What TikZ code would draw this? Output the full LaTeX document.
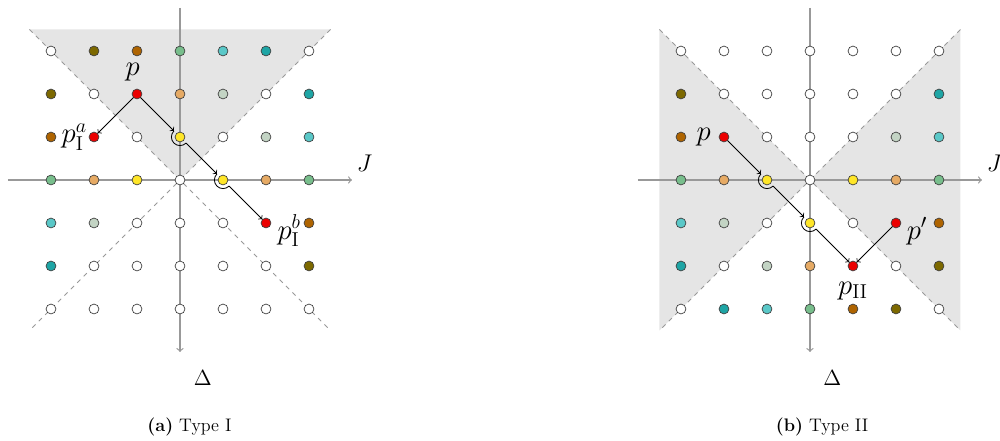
\documentclass[tikz,border=0pt]{standalone}
\usepackage{fix-cm}
\usetikzlibrary{positioning,math}

\definecolor{olv}{RGB}{125,105,0}
\definecolor{brn}{RGB}{175,100,0}
\definecolor{grn}{RGB}{120,190,140}
\definecolor{cyn}{RGB}{90,200,200}
\definecolor{tea}{RGB}{30,165,165}
\definecolor{tan}{RGB}{230,170,100}
\definecolor{sag}{RGB}{195,212,196}
\definecolor{yel}{RGB}{255,230,40}
\definecolor{rd}{RGB}{235,0,0}
\colorlet{wh}{white}

\begin{document}
\begin{tikzpicture}[
    dot/.style={circle,draw=black!75,line width=0.45pt,inner sep=0pt,minimum size=0.23cm},
    axis/.style={->,gray!80,line width=0.8pt},
    cone/.style={gray!80,dashed,line width=0.5pt},
    flow/.style={->,line width=0.55pt},
    ring/.style={line width=0.55pt},
    lbl/.style={inner sep=0pt,font=\fontsize{19}{22}\selectfont},
    axlbl/.style={inner sep=1pt,font=\fontsize{16}{19}\selectfont},
    dlbl/.style={inner sep=1pt,font=\fontsize{14.5}{17}\selectfont},
    captxt/.style={inner sep=1pt,font=\fontsize{12}{14}\selectfont},
  ]
  \tikzmath{
    % radius of the loop round a yellow dot
    \hr = 0.2;
  }
  \useasboundingbox (-4.186,-6.07) rectangle (19.07,4.186);

  % (a) type I
  \fill[gray!20] (-3.5,3.5) -- (3.5,3.5) -- (0,0) -- cycle;
  \draw[cone] (-3.5,3.5) -- (3.5,-3.5);
  \draw[cone] (3.5,3.5) -- (-3.5,-3.5);
  \draw[axis] (-4,0) -- (4,0);
  \draw[axis] (0,4) -- (0,-4);
  \foreach \row [count=\r] in {
      {wh,olv,brn,grn,cyn,tea,wh},
      {olv,wh,rd,tan,sag,wh,tea},
      {brn,rd,wh,yel,wh,sag,cyn},
      {grn,tan,yel,wh,yel,tan,grn},
      {cyn,sag,wh,wh,wh,rd,brn},
      {tea,wh,wh,wh,wh,wh,olv},
      {wh,wh,wh,wh,wh,wh,wh}}{
    \foreach \c [count=\q] in \row {
      \node[dot,fill=\c] (a\q\r) at (\q-4,4-\r) {};
    }
  }
  \draw[flow] (a32) -- (a23);
  \draw[flow] (a32) -- ([shift={(135:\hr)}]a43.center);
  \draw[flow] ([shift={(-45:\hr)}]a43.center) -- ([shift={(135:\hr)}]a54.center);
  \draw[flow] ([shift={(-45:\hr)}]a54.center) -- (a65);
  \foreach \n in {a43,a54}{
    \draw[ring] ([shift={(135:\hr)}]\n.center) arc[start angle=135,end angle=315,radius=\hr];
  }
  \node[lbl,above=5pt of a32,xshift=-1mm] (pa) {$p$};
  \node[lbl,left=1pt of a23] (pIa) {$p_{\mathrm{I}}^a$};
  \node[lbl,right=4pt of a65,yshift=-5pt] (pIb) {$p_{\mathrm{I}}^b$};
  \node[axlbl] (Ja) at (4.29,0.39) {$J$};
  \node[dlbl] (Da) at (0.53,-4.6) {$\Delta$};
  \node[captxt] (capa) at (0.22,-5.75) {\textbf{(a)} Type I};

  % (b) type II
  \begin{scope}[xshift=14.651cm]
    \fill[gray!20] (-3.5,3.5) -- (0,0) -- (-3.5,-3.5) -- cycle;
    \fill[gray!20] (3.5,3.5) -- (0,0) -- (3.5,-3.5) -- cycle;
    \draw[cone] (-3.5,3.5) -- (3.5,-3.5);
    \draw[cone] (3.5,3.5) -- (-3.5,-3.5);
    \draw[axis] (-4,0) -- (4,0);
    \draw[axis] (0,4) -- (0,-4);
    \foreach \row [count=\r] in {
        {wh,wh,wh,wh,wh,wh,wh},
        {olv,wh,wh,wh,wh,wh,tea},
        {brn,rd,wh,wh,wh,sag,cyn},
        {grn,tan,yel,wh,yel,tan,grn},
        {cyn,sag,wh,yel,wh,rd,brn},
        {tea,wh,sag,tan,rd,wh,olv},
        {wh,tea,cyn,grn,brn,olv,wh}}{
      \foreach \c [count=\q] in \row {
        \node[dot,fill=\c] (b\q\r) at (\q-4,4-\r) {};
      }
    }
    \draw[flow] (b23) -- ([shift={(135:\hr)}]b34.center);
    \draw[flow] ([shift={(-45:\hr)}]b34.center) -- ([shift={(135:\hr)}]b45.center);
    \draw[flow] ([shift={(-45:\hr)}]b45.center) -- (b56);
    \draw[flow] (b65) -- (b56);
    \foreach \n in {b34,b45}{
      \draw[ring] ([shift={(135:\hr)}]\n.center) arc[start angle=135,end angle=315,radius=\hr];
    }
    \node[lbl,left=5pt of b23] (pb) {$p$};
    \node[lbl,right=3.5pt of b65,yshift=-5.5pt] (pp) {$p'$};
    \node[lbl,below=7pt of b56] (pII) {$p_{\mathrm{II}}$};
    \node[axlbl] (Jb) at (4.29,0.39) {$J$};
    \node[dlbl] (Db) at (0.52,-4.6) {$\Delta$};
    \node[captxt] (capb) at (0.28,-5.75) {\textbf{(b)} Type II};
  \end{scope}
\end{tikzpicture}
\end{document}
